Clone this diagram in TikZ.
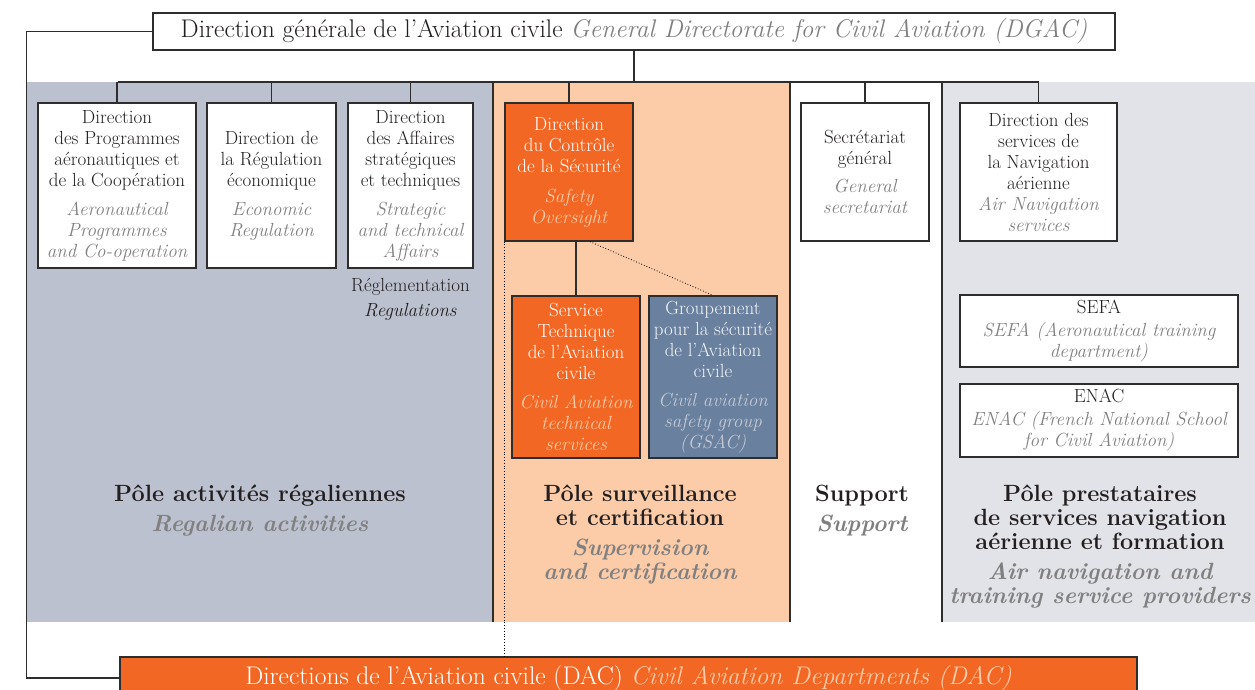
\documentclass[tikz,border=0pt]{standalone}
\usetikzlibrary{positioning}

\definecolor{dacorange}{RGB}{242,103,35}
\definecolor{paleorange}{RGB}{252,203,168}
\definecolor{regblue}{RGB}{187,193,207}
\definecolor{navgray}{RGB}{226,227,232}
\definecolor{gsacblue}{RGB}{105,128,159}
\definecolor{engray}{RGB}{128,128,128}
\definecolor{inkline}{RGB}{45,45,45}
\definecolor{inktext}{RGB}{35,31,32}

\newcommand{\en}[1]{{\itshape\color{entext}#1}}
\newcommand{\enb}[1]{{\bfseries\itshape\color{engray}#1}}

\begin{document}
\begin{tikzpicture}[x=1pt, y=-1pt,
    every node/.style={align=center, inner sep=0pt, text=inktext,
      font=\fontsize{19}{21}\selectfont,
      execute at begin node=\colorlet{entext}{engray}},
    box/.style={draw=inkline, line width=1.3pt, fill=white},
    orangebox/.style={box, fill=dacorange, text=white,
      execute at begin node=\colorlet{entext}{paleorange}},
    bluebox/.style={box, fill=gsacblue, text=white!92!gsacblue,
      execute at begin node=\colorlet{entext}{regblue!85!white}},
    pole/.style={anchor=north, font=\fontsize{23.5}{24}\selectfont\bfseries},
    conn/.style={draw=inkline, line width=1.3pt},
    sep/.style={draw=inkline, line width=2.2pt}]
  \useasboundingbox (0,0) rectangle (1255,689);
  \clip (0,0) rectangle (1255,689);

  % poles
  \fill[regblue] (27,82) rectangle (493,622);
  \fill[paleorange] (493,82) rectangle (790,622);
  \fill[white] (790,82) rectangle (942,622);
  \fill[navgray] (942,82) rectangle (1255,622);
  \draw[sep] (493,82) -- (493,622);
  \draw[sep] (790,82) -- (790,622);
  \draw[sep] (942,82) -- (942,622);

  \node[box, minimum width=962pt, minimum height=37pt, font=\fontsize{25.5}{28}\selectfont] (dgac) at (634,31.5)
    {Direction générale de l'Aviation civile \en{General Directorate for Civil Aviation (DGAC)}};

  \node[box, minimum width=158pt, minimum height=165pt] (dpac) at (117,185.5)
    {Direction\\des Programmes\\aéronautiques et\\de la Coopération\\[8pt]\en{Aeronautical}\\\en{Programmes}\\\en{and Co-operation}};
  \node[box, minimum width=129pt, minimum height=165pt] (dre) at (271.5,185.5)
    {Direction de\\la Régulation\\économique\\[8pt]\en{Economic}\\\en{Regulation}};
  \node[box, minimum width=125pt, minimum height=165pt] (dsa) at (410.5,185.5)
    {Direction\\des Affaires\\stratégiques\\et techniques\\[8pt]\en{Strategic}\\\en{and technical}\\\en{Affairs}};
  \node (regl) at (410.5,299) {Réglementation\\[4pt]\textit{Regulations}};

  \node[orangebox, minimum width=128pt, minimum height=138pt] (dsac) at (569,172)
    {Direction\\du Contrôle\\de la Sécurité\\[9pt]\en{Safety}\\\en{Oversight}};
  \node[orangebox, minimum width=128pt, minimum height=162pt] (stac) at (576,377)
    {Service\\Technique\\de l'Aviation\\civile\\[8pt]\en{Civil Aviation}\\\en{technical}\\\en{services}};
  \node[bluebox, minimum width=128pt, minimum height=162pt] (gsac) at (713,377)
    {Groupement\\pour la sécurité\\de l'Aviation\\civile\\[8pt]\en{Civil aviation}\\\en{safety group}\\\en{(GSAC)}};

  \node[box, minimum width=128pt, minimum height=138pt] (sg) at (865,172)
    {Secrétariat\\général\\[7pt]\en{General}\\\en{secretariat}};

  \node[box, minimum width=157pt, minimum height=138pt] (dsna) at (1038.5,172)
    {Direction des\\services de\\la Navigation\\aérienne\\\en{Air Navigation}\\\en{services}};
  \node[box, minimum width=278pt, minimum height=72pt] (sefa) at (1099,331)
    {SEFA\\[2pt]\en{SEFA (Aeronautical training}\\\en{department)}};
  \node[box, minimum width=278pt, minimum height=73pt] (enac) at (1099,420.5)
    {ENAC\\[2pt]\en{ENAC (French National School}\\\en{for Civil Aviation)}};

  \node[pole] (preg) at (260,485) {Pôle activités régaliennes\\[6pt]\enb{Regalian activities}};
  \node[pole] (psurv) at (640,485) {Pôle surveillance\\et certification\\[6pt]\enb{Supervision}\\\enb{and certification}};
  \node[pole] (psupp) at (862,485) {Support\\[6pt]\enb{Support}};
  \node[pole] (pnav) at (1100,485) {Pôle prestataires\\de services navigation\\aérienne et formation\\[6pt]\enb{Air navigation and}\\\enb{training service providers}};

  \node[orangebox, minimum width=1017pt, minimum height=42pt, font=\fontsize{25.5}{28}\selectfont] (dac) at (628.5,678)
    {Directions de l'Aviation civile (DAC) \en{Civil Aviation Departments (DAC)}};

  % liaisons
  \coordinate (busL) at (118,82);
  \coordinate (busR) at (1038.5,82);
  \draw[conn] (busL) -- (busR);
  \draw[conn] (dgac.south) -- (dgac.south |- busL);
  \foreach \n in {dpac,dre,dsa,dsac,sg,dsna}
    \draw[conn] (\n.north) -- (\n.north |- busL);
  \draw[conn] (dgac.west) -- ++(-126,0) |- (dac.west);
  \draw[conn] (stac.north) -- (stac.north |- dsac.south);
  \draw[dotted, thick] ([xshift=21pt]dsac.south) -- (gsac.north);
  \draw[dotted, thick] (dsac.south west) -- (dsac.south west |- dac.north);
\end{tikzpicture}
\end{document}
